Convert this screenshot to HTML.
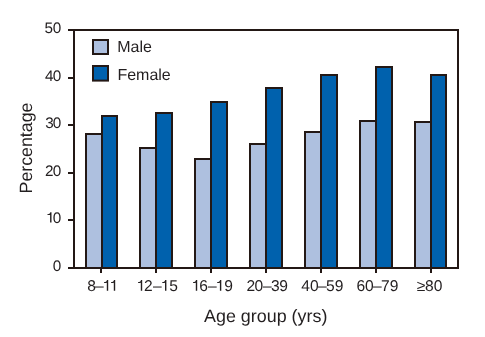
<!DOCTYPE html>
<html><head><meta charset="utf-8"><style>
html,body{margin:0;padding:0;background:#fff;}
svg{display:block;will-change:transform;}
text{text-rendering:geometricPrecision;font-family:"Liberation Sans",sans-serif;fill:#231f20;}
.xt{font-size:15.6px;}
.yt{font-size:15.3px;}
.lg{font-size:16px;}
.ti{font-size:17.9px;}
.yl{font-size:17.8px;}
</style></head><body>
<svg width="485" height="337" viewBox="0 0 485 337">
<rect x="86" y="134" width="16" height="134" fill="#aec0df" stroke="#231815" stroke-width="2"/>
<rect x="102" y="116" width="15" height="152" fill="#0061ad" stroke="#231815" stroke-width="2"/>
<rect x="140" y="148" width="16" height="120" fill="#aec0df" stroke="#231815" stroke-width="2"/>
<rect x="156" y="113" width="16" height="155" fill="#0061ad" stroke="#231815" stroke-width="2"/>
<rect x="195" y="159" width="16" height="109" fill="#aec0df" stroke="#231815" stroke-width="2"/>
<rect x="211" y="102" width="16" height="166" fill="#0061ad" stroke="#231815" stroke-width="2"/>
<rect x="250" y="144" width="16" height="124" fill="#aec0df" stroke="#231815" stroke-width="2"/>
<rect x="266" y="88" width="16" height="180" fill="#0061ad" stroke="#231815" stroke-width="2"/>
<rect x="305" y="132" width="16" height="136" fill="#aec0df" stroke="#231815" stroke-width="2"/>
<rect x="321" y="75" width="16" height="193" fill="#0061ad" stroke="#231815" stroke-width="2"/>
<rect x="360" y="121" width="16" height="147" fill="#aec0df" stroke="#231815" stroke-width="2"/>
<rect x="376" y="67" width="16" height="201" fill="#0061ad" stroke="#231815" stroke-width="2"/>
<rect x="415" y="122" width="16" height="146" fill="#aec0df" stroke="#231815" stroke-width="2"/>
<rect x="431" y="75" width="15" height="193" fill="#0061ad" stroke="#231815" stroke-width="2"/>
<path d="M74 30 H458 V268" fill="none" stroke="#231815" stroke-width="2"/>
<path d="M74 29 V269 M68 268 H459" fill="none" stroke="#231815" stroke-width="2"/>
<path d="M68 268.00 H74" stroke="#231815" stroke-width="2"/>
<text x="61.3" y="271.20" text-anchor="end" class="yt">0</text>
<path d="M68 220.00 H74" stroke="#231815" stroke-width="2"/>
<path d="M51.50 212.30 L51.50 222.60 L50.10 222.60 L50.10 214.90 L49.20 215.10 L47.40 215.10 L47.40 214.25 L48.60 214.10 L49.80 213.50 L50.30 212.30 Z" fill="#231f20"/>
<text x="61.3" y="223.20" text-anchor="end" class="yt">0</text>
<path d="M68 173.00 H74" stroke="#231815" stroke-width="2"/>
<text x="44.88 52.79" y="176.20" class="yt">20</text>
<path d="M68 125.00 H74" stroke="#231815" stroke-width="2"/>
<text x="45.18 52.79" y="128.20" class="yt">30</text>
<path d="M68 78.00 H74" stroke="#231815" stroke-width="2"/>
<text x="45.03 52.79" y="81.20" class="yt">40</text>
<path d="M68 30.00 H74" stroke="#231815" stroke-width="2"/>
<text x="44.58 52.79" y="33.20" class="yt">50</text>
<path d="M101 268 V273" stroke="#231815" stroke-width="2"/>
<path d="M108.20 280.10 L108.20 290.80 L106.80 290.80 L106.80 282.70 L105.90 282.90 L104.10 282.90 L104.10 282.05 L105.30 281.90 L106.50 281.30 L107.00 280.10 Z" fill="#231f20"/>
<path d="M115.20 280.10 L115.20 290.80 L113.80 290.80 L113.80 282.70 L112.90 282.90 L111.10 282.90 L111.10 282.05 L112.30 281.90 L113.50 281.30 L114.00 280.10 Z" fill="#231f20"/>
<text x="87.13 95.00" y="290.7" class="xt">8–</text>
<path d="M156 268 V273" stroke="#231815" stroke-width="2"/>
<path d="M142.20 280.10 L142.20 290.80 L140.80 290.80 L140.80 282.70 L139.90 282.90 L138.10 282.90 L138.10 282.05 L139.30 281.90 L140.50 281.30 L141.00 280.10 Z" fill="#231f20"/>
<path d="M166.40 280.10 L166.40 290.80 L165.00 290.80 L165.00 282.70 L164.10 282.90 L162.30 282.90 L162.30 282.05 L163.50 281.90 L164.70 281.30 L165.20 280.10 Z" fill="#231f20"/>
<text x="144.02 153.00 169.28" y="290.7" class="xt">2–5</text>
<path d="M211 268 V273" stroke="#231815" stroke-width="2"/>
<path d="M197.20 280.10 L197.20 290.80 L195.80 290.80 L195.80 282.70 L194.90 282.90 L193.10 282.90 L193.10 282.05 L194.30 281.90 L195.50 281.30 L196.00 280.10 Z" fill="#231f20"/>
<path d="M221.30 280.10 L221.30 290.80 L219.90 290.80 L219.90 282.70 L219.00 282.90 L217.20 282.90 L217.20 282.05 L218.40 281.90 L219.60 281.30 L220.10 280.10 Z" fill="#231f20"/>
<text x="199.20 208.00 224.17" y="290.7" class="xt">6–9</text>
<path d="M266 268 V273" stroke="#231815" stroke-width="2"/>
<text x="246.42 254.39 262.90 271.11 279.37" y="290.7" class="xt">20–39</text>
<path d="M321 268 V273" stroke="#231815" stroke-width="2"/>
<text x="301.34 309.89 317.90 326.08 334.67" y="290.7" class="xt">40–59</text>
<path d="M376 268 V273" stroke="#231815" stroke-width="2"/>
<text x="356.40 364.89 372.90 380.90 389.67" y="290.7" class="xt">60–79</text>
<path d="M431 268 V273" stroke="#231815" stroke-width="2"/>
<text x="416.80 424.93 433.79" y="290.7" class="xt">≥80</text>
<rect x="93" y="40" width="15" height="14" fill="#aec0df" stroke="#231815" stroke-width="2"/>
<rect x="93" y="66" width="15" height="14.6" fill="#0061ad" stroke="#231815" stroke-width="2"/>
<text x="117.2" y="52.1" class="lg">Male</text>
<text x="117.4" y="79.85" class="lg">Female</text>
<text x="265.7" y="322" text-anchor="middle" class="ti">Age group (yrs)</text>
<text transform="translate(32,148.0) rotate(-90)" text-anchor="middle" class="ti yl">Percentage</text>
</svg>
</body></html>
